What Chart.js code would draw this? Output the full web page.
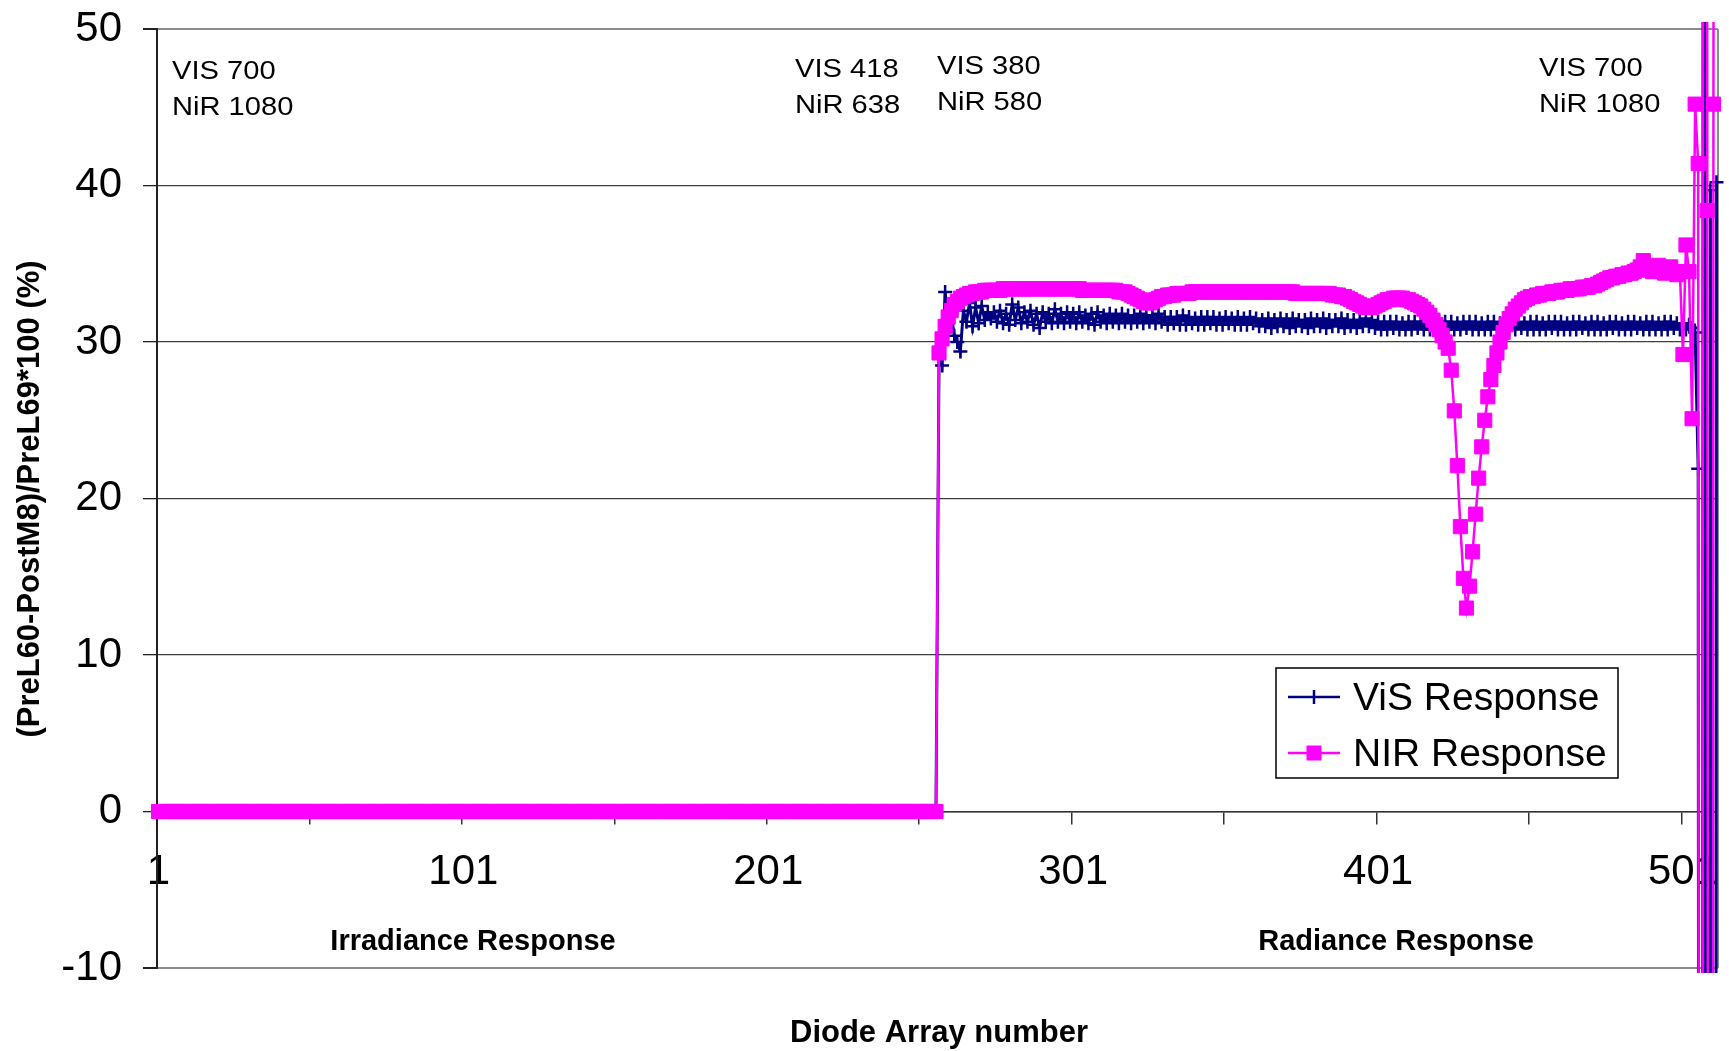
<!DOCTYPE html>
<html>
<head>
<meta charset="utf-8">
<title>Diode Array response</title>
<script src="https://cdn.jsdelivr.net/npm/chart.js@4.4.1/dist/chart.umd.min.js"></script>
<style>
  html, body { margin: 0; padding: 0; background: #fff; }
  #wrap { width: 1729px; height: 1051px; position: relative; }
</style>
</head>
<body>
<div id="wrap"><canvas id="diodeChart"></canvas></div>
<script>
// Categories: diode array numbers 1..512
const diodes = Array.from({ length: 512 }, (_, k) => k + 1);
const xTickLabels = ['1', '101', '201', '301', '401', '501'];
const yTicks = [-10, 0, 10, 20, 30, 40, 50];

// ViS response per diode
const visResponse = [
  // 1-256
  0, 0, 0, 0, 0, 0, 0, 0, 0, 0, 0, 0, 0, 0, 0, 0,
  0, 0, 0, 0, 0, 0, 0, 0, 0, 0, 0, 0, 0, 0, 0, 0,
  0, 0, 0, 0, 0, 0, 0, 0, 0, 0, 0, 0, 0, 0, 0, 0,
  0, 0, 0, 0, 0, 0, 0, 0, 0, 0, 0, 0, 0, 0, 0, 0,
  0, 0, 0, 0, 0, 0, 0, 0, 0, 0, 0, 0, 0, 0, 0, 0,
  0, 0, 0, 0, 0, 0, 0, 0, 0, 0, 0, 0, 0, 0, 0, 0,
  0, 0, 0, 0, 0, 0, 0, 0, 0, 0, 0, 0, 0, 0, 0, 0,
  0, 0, 0, 0, 0, 0, 0, 0, 0, 0, 0, 0, 0, 0, 0, 0,
  0, 0, 0, 0, 0, 0, 0, 0, 0, 0, 0, 0, 0, 0, 0, 0,
  0, 0, 0, 0, 0, 0, 0, 0, 0, 0, 0, 0, 0, 0, 0, 0,
  0, 0, 0, 0, 0, 0, 0, 0, 0, 0, 0, 0, 0, 0, 0, 0,
  0, 0, 0, 0, 0, 0, 0, 0, 0, 0, 0, 0, 0, 0, 0, 0,
  0, 0, 0, 0, 0, 0, 0, 0, 0, 0, 0, 0, 0, 0, 0, 0,
  0, 0, 0, 0, 0, 0, 0, 0, 0, 0, 0, 0, 0, 0, 0, 0,
  0, 0, 0, 0, 0, 0, 0, 0, 0, 0, 0, 0, 0, 0, 0, 0,
  0, 0, 0, 0, 0, 0, 0, 0, 0, 0, 0, 0, 0, 0, 0, 0,
  // 257-274
  29.0, 28.5, 33.2, 31.2, 31.8, 30.4, 30.0, 29.4, 32.0, 31.3, 32.5, 31.0, 32.2, 31.2, 32.3, 31.4, 31.9, 31.5,
  // 275-300
  31.9, 31.3, 32.0, 31.2, 31.8, 31.1, 32.4, 31.4, 32.2, 31.2,
  31.9, 31.3, 32.0, 31.1, 31.8, 30.9, 31.9, 31.3, 31.8, 31.2,
  32.1, 31.3, 31.8, 31.2, 31.9, 31.3,
  // 301-330
  31.8, 31.2, 31.9, 31.3, 31.7, 31.2, 31.8, 31.1, 31.9, 31.3,
  31.7, 31.2, 31.8, 31.3, 31.7, 31.2, 31.8, 31.3, 31.7, 31.2,
  31.7, 31.3, 31.8, 31.2, 31.7, 31.3, 31.7, 31.2, 31.8, 31.3,
  // 331-360
  31.6, 31.1, 31.6, 31.2, 31.6, 31.1, 31.7, 31.1, 31.6, 31.2,
  31.5, 31.1, 31.6, 31.1, 31.6, 31.2, 31.6, 31.1, 31.5, 31.1,
  31.6, 31.2, 31.5, 31.1, 31.6, 31.1, 31.5, 31.1, 31.6, 31.2,
  // 361-400
  31.5, 31.0, 31.4, 31.0, 31.5, 30.9, 31.4, 31.0, 31.5, 31.0,
  31.4, 30.9, 31.5, 31.0, 31.4, 31.0, 31.4, 30.9, 31.5, 31.0,
  31.4, 31.0, 31.5, 30.9, 31.4, 31.0, 31.4, 31.0, 31.5, 30.9,
  31.4, 31.0, 31.4, 30.9, 31.4, 31.0, 31.5, 31.0, 31.4, 30.9,
  // 401-505
  31.3, 30.8, 31.3, 30.8, 31.3, 30.9, 31.3, 30.8, 31.2, 30.8, 31.3, 30.8, 31.3, 30.9, 31.3,
  30.8, 31.3, 30.8, 31.2, 30.8, 31.3, 30.9, 31.3, 30.8, 31.3, 30.8, 31.2, 30.8, 31.3, 30.9,
  31.3, 30.8, 31.3, 30.8, 31.2, 30.8, 31.3, 30.8, 31.3, 30.9, 31.2, 30.8, 31.3, 30.8, 31.3,
  30.8, 31.3, 30.9, 31.2, 30.8, 31.3, 30.8, 31.3, 30.8, 31.2, 30.8, 31.3, 30.9, 31.3, 30.8,
  31.3, 30.8, 31.2, 30.8, 31.3, 30.8, 31.3, 30.9, 31.2, 30.8, 31.3, 30.8, 31.3, 30.8, 31.2,
  30.8, 31.3, 30.9, 31.3, 30.8, 31.2, 30.8, 31.3, 30.8, 31.3, 30.9, 31.2, 30.8, 31.3, 30.8,
  31.3, 30.8, 31.2, 30.8, 31.3, 30.8, 31.3, 30.9, 31.2, 30.8, 31.2, 30.8, 31.1, 30.9, 30.6,
  // 506-512 (last diodes run far off scale)
  21.9, -300, 300, -300, 39.7, -300, 40.2
];

// NIR response per diode
const nirResponse = [
  // 1-256
  0, 0, 0, 0, 0, 0, 0, 0, 0, 0, 0, 0, 0, 0, 0, 0,
  0, 0, 0, 0, 0, 0, 0, 0, 0, 0, 0, 0, 0, 0, 0, 0,
  0, 0, 0, 0, 0, 0, 0, 0, 0, 0, 0, 0, 0, 0, 0, 0,
  0, 0, 0, 0, 0, 0, 0, 0, 0, 0, 0, 0, 0, 0, 0, 0,
  0, 0, 0, 0, 0, 0, 0, 0, 0, 0, 0, 0, 0, 0, 0, 0,
  0, 0, 0, 0, 0, 0, 0, 0, 0, 0, 0, 0, 0, 0, 0, 0,
  0, 0, 0, 0, 0, 0, 0, 0, 0, 0, 0, 0, 0, 0, 0, 0,
  0, 0, 0, 0, 0, 0, 0, 0, 0, 0, 0, 0, 0, 0, 0, 0,
  0, 0, 0, 0, 0, 0, 0, 0, 0, 0, 0, 0, 0, 0, 0, 0,
  0, 0, 0, 0, 0, 0, 0, 0, 0, 0, 0, 0, 0, 0, 0, 0,
  0, 0, 0, 0, 0, 0, 0, 0, 0, 0, 0, 0, 0, 0, 0, 0,
  0, 0, 0, 0, 0, 0, 0, 0, 0, 0, 0, 0, 0, 0, 0, 0,
  0, 0, 0, 0, 0, 0, 0, 0, 0, 0, 0, 0, 0, 0, 0, 0,
  0, 0, 0, 0, 0, 0, 0, 0, 0, 0, 0, 0, 0, 0, 0, 0,
  0, 0, 0, 0, 0, 0, 0, 0, 0, 0, 0, 0, 0, 0, 0, 0,
  0, 0, 0, 0, 0, 0, 0, 0, 0, 0, 0, 0, 0, 0, 0, 0,
  // 257-270
  29.3, 30.2, 31.0, 31.6, 32.0, 32.4, 32.6, 32.8, 32.9, 33.0, 33.1, 33.1, 33.2, 33.2,
  // 271-300
  33.2, 33.3, 33.3, 33.3, 33.3, 33.3, 33.3, 33.4, 33.4, 33.4,
  33.4, 33.4, 33.4, 33.4, 33.4, 33.4, 33.4, 33.4, 33.4, 33.4,
  33.4, 33.4, 33.4, 33.4, 33.4, 33.4, 33.4, 33.4, 33.4, 33.4,
  // 301-340
  33.4, 33.4, 33.4, 33.3, 33.3, 33.3, 33.3, 33.3, 33.3, 33.3,
  33.3, 33.3, 33.3, 33.3, 33.3, 33.2, 33.2, 33.2, 33.1, 33.0,
  32.9, 32.8, 32.7, 32.6, 32.5, 32.5, 32.6, 32.7, 32.8, 32.9,
  32.9, 33.0, 33.0, 33.0, 33.1, 33.1, 33.1, 33.1, 33.1, 33.2,
  // 341-370
  33.2, 33.2, 33.2, 33.2, 33.2, 33.2, 33.2, 33.2, 33.2, 33.2,
  33.2, 33.2, 33.2, 33.2, 33.2, 33.2, 33.2, 33.2, 33.2, 33.2,
  33.2, 33.2, 33.2, 33.2, 33.2, 33.2, 33.2, 33.2, 33.2, 33.2,
  // 371-420
  33.2, 33.2, 33.2, 33.1, 33.1, 33.1, 33.1, 33.1, 33.1, 33.1,
  33.1, 33.1, 33.1, 33.1, 33.1, 33.0, 33.0, 33.0, 32.9, 32.9,
  32.8, 32.7, 32.6, 32.5, 32.4, 32.3, 32.2, 32.2, 32.2, 32.3,
  32.4, 32.5, 32.6, 32.7, 32.7, 32.8, 32.8, 32.8, 32.8, 32.7,
  32.7, 32.6, 32.5, 32.4, 32.3, 32.1, 31.9, 31.7, 31.4, 31.1,
  // 421-450 (absorption dip)
  30.8, 30.4, 30.0, 29.6, 28.2, 25.6, 22.1, 18.2, 14.9, 13.0,
  14.4, 16.6, 19.0, 21.3, 23.3, 25.0, 26.5, 27.6, 28.5, 29.3,
  30.0, 30.6, 31.1, 31.5, 31.8, 32.1, 32.3, 32.5, 32.7, 32.8,
  // 451-500
  32.9, 32.9, 33.0, 33.0, 33.1, 33.1, 33.1, 33.2, 33.2, 33.2,
  33.3, 33.3, 33.3, 33.4, 33.4, 33.4, 33.4, 33.5, 33.5, 33.5,
  33.6, 33.6, 33.7, 33.8, 33.9, 34.0, 34.1, 34.1, 34.2, 34.2,
  34.3, 34.3, 34.4, 34.4, 34.5, 34.6, 34.8, 35.2, 34.8, 34.6,
  34.5, 34.6, 34.9, 34.5, 34.4, 34.6, 34.8, 34.5, 34.3, 34.5,
  // 501-512
  29.2, 36.2, 34.5, 25.1, 45.2, 41.4, -300, 300, 38.4, -300, 45.2, 300
];

const seriesNames = ['ViS Response', 'NIR Response'];
const seriesColors = ['#000080', '#ff00ff'];

const notes = [
  { lines: ['VIS 700', 'NiR 1080'], x: 172, y: 79 },
  { lines: ['VIS 418', 'NiR 638'], x: 795, y: 77 },
  { lines: ['VIS 380', 'NiR 580'], x: 937, y: 74 },
  { lines: ['VIS 700', 'NiR 1080'], x: 1539, y: 76 }
];
const sections = [
  { text: 'Irradiance Response', x: 473, y: 950 },
  { text: 'Radiance Response', x: 1396, y: 950 }
];

const FONT = '"Liberation Sans", Arial, Helvetica, sans-serif';
Chart.defaults.font.family = FONT;

function stretchedText(ctx, text, x, y, sx) {
  ctx.save();
  ctx.translate(x, y);
  ctx.scale(sx, 1);
  ctx.fillText(text, 0, 0);
  ctx.restore();
}

// labels must not push the plot area in
function noLabelPadding(scale) {
  scale.paddingTop = 0;
  scale.paddingBottom = 0;
  scale.paddingLeft = 0;
  scale.paddingRight = 0;
}

const decorPlugin = {
  id: 'decor',
  beforeDatasetsDraw(chart) {
    const { ctx, chartArea: a } = chart;
    ctx.save();
    ctx.strokeStyle = '#8c8c8c';
    ctx.lineWidth = 2;
    ctx.beginPath();
    ctx.moveTo(a.right, a.top);
    ctx.lineTo(a.right, a.bottom);
    ctx.stroke();
    ctx.restore();
  },
  afterDraw(chart) {
    const { ctx } = chart;
    ctx.save();
    ctx.fillStyle = '#000';
    ctx.textBaseline = 'alphabetic';

    // wavelength notes
    ctx.textAlign = 'left';
    ctx.font = '26px ' + FONT;
    notes.forEach(n => {
      n.lines.forEach((t, k) => stretchedText(ctx, t, n.x, n.y + k * 36, 1.12));
    });

    // section labels
    ctx.textAlign = 'center';
    ctx.font = 'bold 29px ' + FONT;
    sections.forEach(s => ctx.fillText(s.text, s.x, s.y));

    // axis titles
    ctx.font = 'bold 31px ' + FONT;
    ctx.fillText('Diode Array number', 939, 1042);
    ctx.save();
    ctx.translate(39, 499);
    ctx.rotate(-Math.PI / 2);
    ctx.fillText('(PreL60-PostM8)/PreL69*100 (%)', 0, 0);
    ctx.restore();

    // legend
    const lg = { x: 1276, y: 668, w: 342, h: 110 };
    ctx.fillStyle = '#fff';
    ctx.fillRect(lg.x, lg.y, lg.w, lg.h);
    ctx.strokeStyle = '#000';
    ctx.lineWidth = 1.5;
    ctx.strokeRect(lg.x, lg.y, lg.w, lg.h);
    const rows = [697, 753];
    seriesNames.forEach((name, k) => {
      const y = rows[k];
      ctx.strokeStyle = seriesColors[k];
      ctx.fillStyle = seriesColors[k];
      ctx.lineWidth = k === 0 ? 2.5 : 2.5;
      ctx.beginPath();
      ctx.moveTo(1288, y);
      ctx.lineTo(1340, y);
      ctx.stroke();
      if (k === 0) {
        ctx.beginPath();
        ctx.moveTo(1314, y - 7);
        ctx.lineTo(1314, y + 7);
        ctx.stroke();
      } else {
        ctx.fillRect(1314 - 7.5, y - 7.5, 15, 15);
      }
      ctx.fillStyle = '#000';
      ctx.textAlign = 'left';
      ctx.font = '39px ' + FONT;
      ctx.fillText(name, 1353, y + 13);
    });
    ctx.restore();
  }
};

const dataClip = { left: 8, top: 7, right: 6, bottom: 5 };

new Chart(document.getElementById('diodeChart'), {
  type: 'line',
  data: {
    labels: diodes,
    datasets: [
      {
        label: seriesNames[1],
        data: nirResponse,
        borderColor: seriesColors[1],
        backgroundColor: seriesColors[1],
        borderWidth: 2.5,
        pointStyle: 'rect',
        pointRadius: 10,
        pointBorderWidth: 1,
        pointBackgroundColor: seriesColors[1],
        pointBorderColor: seriesColors[1],
        tension: 0,
        clip: dataClip,
        order: 0
      },
      {
        label: seriesNames[0],
        data: visResponse,
        borderColor: seriesColors[0],
        backgroundColor: seriesColors[0],
        borderWidth: 3,
        pointStyle: 'cross',
        pointRadius: 7,
        pointBorderWidth: 2.5,
        pointBorderColor: seriesColors[0],
        tension: 0,
        clip: dataClip,
        order: 1
      }
    ]
  },
  options: {
    responsive: true,
    maintainAspectRatio: false,
    animation: false,
    events: [],
    layout: { padding: { left: 0, top: 29, right: 6, bottom: 83 } },
    plugins: {
      legend: { display: false },
      tooltip: { enabled: false }
    },
    scales: {
      x: {
        type: 'category',
        position: { y: 0 },
        offset: true,
        afterFit: noLabelPadding,
        ticks: {
          autoSkip: false,
          maxRotation: 0,
          minRotation: 0,
          color: '#000',
          font: { size: 42 },
          padding: 24,
          callback(value) {
            const lab = String(this.getLabelForValue(value));
            return xTickLabels.includes(lab) ? lab : '';
          }
        },
        grid: {
          offset: true,
          drawOnChartArea: false,
          tickLength: 12,
          lineWidth: 1.5,
          color: c => (c.index % 50 === 0 ? '#333' : 'rgba(0,0,0,0)')
        },
        border: { display: true, color: '#333', width: 1.5 }
      },
      y: {
        min: -10,
        max: 50,
        afterFit(scale) {
          scale.width = 157;
          noLabelPadding(scale);
        },
        afterBuildTicks(scale) { scale.ticks = yTicks.map(v => ({ value: v })); },
        ticks: { color: '#000', font: { size: 42 }, padding: 21 },
        grid: {
          color: c => (c.tick && (c.tick.value === 50 || c.tick.value === -10)) ? '#8c8c8c' : '#404040',
          lineWidth: c => (c.tick && (c.tick.value === 50 || c.tick.value === -10)) ? 2 : 1.3,
          tickColor: '#222',
          tickLength: 14
        },
        border: { color: '#222', width: 2 }
      }
    }
  },
  plugins: [decorPlugin]
});
</script>
</body>
</html>
